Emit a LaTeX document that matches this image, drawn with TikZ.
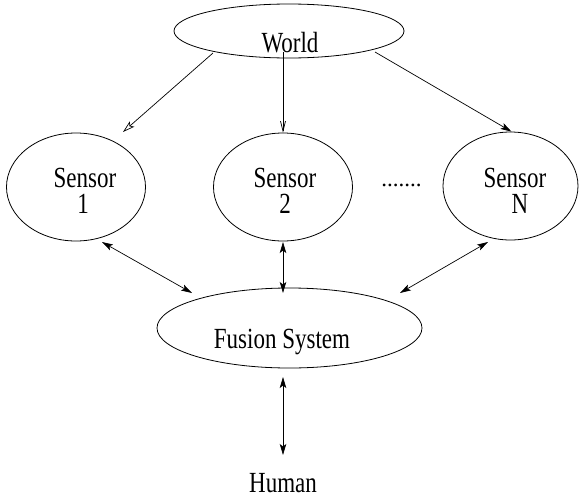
\documentclass[tikz,border=0pt]{standalone}
\usepackage{fontspec}
\setmainfont{Liberation Serif}
\usetikzlibrary{arrows.meta,calc,shapes.geometric}
\newcommand\tallText[1]{\scalebox{1}[1.27]{#1}}
\begin{document}
\begin{tikzpicture}[x=1pt,y=-1pt,
 oval/.style={draw, ellipse, inner sep=0pt, line width=0.8pt},
 lbl/.style={anchor=base, inner sep=0pt, font=\fontsize{23}{26}\selectfont},
 con/.style={line width=0.7pt},
 twoway/.style={{Stealth[length=11pt,width=6.5pt,inset=2.5pt]}-{Stealth[length=11pt,width=6.5pt,inset=2.5pt]}},
]
\useasboundingbox (0,0) rectangle (579,496);
% ellipses
\node[oval, minimum width=230pt, minimum height=54pt] (world) at (289,31) {};
\node[oval, minimum width=139pt, minimum height=108pt] (s1) at (76,187) {};
\node[oval, minimum width=139pt, minimum height=108pt] (s2) at (283,187) {};
\node[oval, minimum width=135pt, minimum height=108pt] (sN) at (510.5,186) {};
\node[oval, minimum width=265pt, minimum height=80pt] (fusion) at (289.5,328) {};
% texts
\node[lbl] (worldtxt) at (290,52) {\tallText{World}};
\node[lbl] (s1a) at (85,187) {\tallText{Sensor}};
\node[lbl] (s1b) at (83,213) {\tallText{1}};
\node[lbl] (s2a) at (285,187) {\tallText{Sensor}};
\node[lbl] (s2b) at (285,213) {\tallText{2}};
\node[lbl] (sNa) at (515,187) {\tallText{Sensor}};
\node[lbl] (sNb) at (520,213) {\tallText{N}};
\node[lbl] (dots) at (401.5,186) {.......};
\node[lbl] (fusiontxt) at (282,348) {\tallText{Fusion System}};
\node[lbl] (human) at (283,492) {\tallText{Human}};
% connectors
\draw[con, -{Stealth[open,length=12pt,width=7pt,inset=2.5pt]}] ($(world.center)+(-76,22)$) -- ($(s1.center)+(47,-55)$);
\draw[con, -{Straight Barb[length=10pt,width=5pt]}] ($(world.center)+(-6,21)$) -- (s2.north);
\draw[con, -{Stealth[length=11pt,width=6.5pt,inset=2.5pt]}] ($(world.center)+(86,21)$) -- ($(sN.north)+(1,0)$);
\draw[con, twoway] ($(s1.center)+(26,55)$) -- ($(fusion.center)+(-97.5,-35)$);
\draw[con, twoway] ($(s2.center)+(0,55)$) -- ($(fusion.center)+(-6.5,-35)$);
\draw[con, twoway] ($(sN.center)+(-22.5,56)$) -- ($(fusion.center)+(110.5,-35)$);
\draw[con, twoway] ($(fusion.center)+(-6.5,49)$) -- ($(human.base)+(0,-37)$);
\end{tikzpicture}
\end{document}
